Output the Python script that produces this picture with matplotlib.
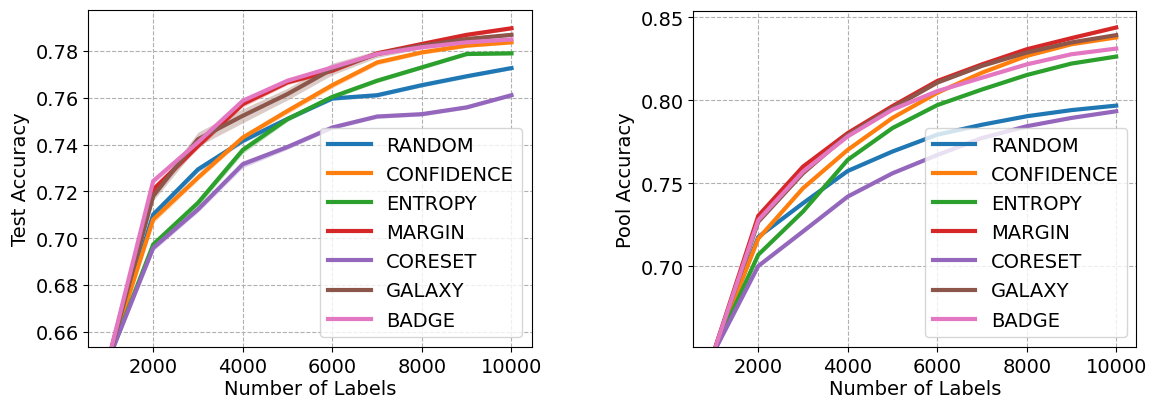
import matplotlib
matplotlib.use("Agg")
import matplotlib.pyplot as plt
import numpy as np

plt.rcParams.update({
    "font.size": 14,
    "axes.grid": True,
    "grid.linestyle": "--",
    "grid.color": "#b0b0b0",
    "grid.linewidth": 0.8,
})

labels = [1000, 2000, 3000, 4000, 5000, 6000, 7000, 8000, 9000, 10000]
methods = ["RANDOM", "CONFIDENCE", "ENTROPY", "MARGIN", "CORESET", "GALAXY", "BADGE"]
colors = ["#1f77b4", "#ff7f0e", "#2ca02c", "#d62728", "#9467bd", "#8c564b", "#e377c2"]

# test accuracy (mean, std)
test_random = [0.648, 0.7101, 0.7294, 0.7416, 0.7510, 0.7597, 0.7611, 0.7654, 0.7692, 0.7727]
test_confidence = [0.648, 0.7080, 0.7259, 0.7430, 0.7544, 0.7654, 0.7751, 0.7794, 0.7823, 0.7837]
test_entropy = [0.648, 0.6973, 0.7151, 0.7377, 0.7509, 0.7604, 0.7673, 0.7730, 0.7787, 0.7790]
test_margin = [0.648, 0.7208, 0.7394, 0.7573, 0.7666, 0.7716, 0.7790, 0.7830, 0.7869, 0.7897]
test_coreset = [0.648, 0.6958, 0.7123, 0.7316, 0.7390, 0.7473, 0.7520, 0.7530, 0.7559, 0.7611]
test_galaxy = [0.648, 0.7180, 0.7423, 0.7523, 0.7616, 0.7723, 0.7787, 0.7823, 0.7851, 0.7869]
test_badge = [0.648, 0.7244, 0.7410, 0.7587, 0.7673, 0.7730, 0.7787, 0.7816, 0.7837, 0.7849]

test_random_std = [0.0, 0.0012, 0.0012, 0.0010, 0.0008, 0.0008, 0.0008, 0.0008, 0.0008, 0.0007]
test_confidence_std = [0.0, 0.0015, 0.0012, 0.0010, 0.0012, 0.0012, 0.0010, 0.0008, 0.0008, 0.0007]
test_entropy_std = [0.0, 0.0012, 0.0015, 0.0015, 0.0010, 0.0008, 0.0008, 0.0008, 0.0007, 0.0007]
test_margin_std = [0.0, 0.0015, 0.0012, 0.0012, 0.0010, 0.0008, 0.0008, 0.0008, 0.0007, 0.0007]
test_coreset_std = [0.0, 0.0012, 0.0012, 0.0015, 0.0010, 0.0008, 0.0008, 0.0008, 0.0007, 0.0007]
test_galaxy_std = [0.0, 0.0020, 0.0030, 0.0030, 0.0025, 0.0025, 0.0015, 0.0012, 0.0010, 0.0008]
test_badge_std = [0.0, 0.0012, 0.0012, 0.0012, 0.0010, 0.0008, 0.0008, 0.0008, 0.0007, 0.0007]

# pool accuracy (mean, std)
pool_random = [0.648, 0.7177, 0.7380, 0.7574, 0.7691, 0.7792, 0.7852, 0.7903, 0.7940, 0.7967]
pool_confidence = [0.648, 0.7167, 0.7470, 0.7701, 0.7893, 0.8044, 0.8165, 0.8266, 0.8336, 0.8377]
pool_entropy = [0.648, 0.7070, 0.7330, 0.7641, 0.7832, 0.7970, 0.8064, 0.8151, 0.8220, 0.8262]
pool_margin = [0.648, 0.7304, 0.7600, 0.7802, 0.7964, 0.8115, 0.8215, 0.8306, 0.8373, 0.8437]
pool_coreset = [0.648, 0.7002, 0.7210, 0.7420, 0.7560, 0.7670, 0.7772, 0.7843, 0.7893, 0.7933]
pool_galaxy = [0.648, 0.7268, 0.7560, 0.7792, 0.7953, 0.8105, 0.8206, 0.8286, 0.8347, 0.8391]
pool_badge = [0.648, 0.7278, 0.7570, 0.7782, 0.7943, 0.8054, 0.8135, 0.8215, 0.8276, 0.8310]

pool_std = [0.0, 0.0008, 0.0008, 0.0007, 0.0007, 0.0006, 0.0006, 0.0005, 0.0005, 0.0005]

test_means = [test_random, test_confidence, test_entropy, test_margin, test_coreset, test_galaxy, test_badge]
test_stds = [test_random_std, test_confidence_std, test_entropy_std, test_margin_std,
             test_coreset_std, test_galaxy_std, test_badge_std]
pool_means = [pool_random, pool_confidence, pool_entropy, pool_margin, pool_coreset, pool_galaxy, pool_badge]

fig = plt.figure(figsize=(11.52, 4.02), dpi=100)
ax1 = fig.add_axes([0.0766, 0.1343, 0.3849, 0.8383])
ax2 = fig.add_axes([0.6019, 0.1343, 0.3845, 0.8358])

x = np.array(labels)
for name, c, m, s in zip(methods, colors, test_means, test_stds):
    m = np.array(m)
    s = np.array(s)
    ax1.plot(x, m, color=c, lw=3, label=name)
    ax1.fill_between(x, m - s, m + s, color=c, alpha=0.3, lw=0)

for name, c, m in zip(methods, colors, pool_means):
    m = np.array(m)
    s = np.array(pool_std)
    ax2.plot(x, m, color=c, lw=3, label=name)
    ax2.fill_between(x, m - s, m + s, color=c, alpha=0.3, lw=0)

ax1.set_ylim(0.6535, 0.7975)
ax1.set_yticks([0.66, 0.68, 0.70, 0.72, 0.74, 0.76, 0.78])
ax1.set_ylabel("Test Accuracy")
ax2.set_ylim(0.6515, 0.8536)
ax2.set_yticks([0.70, 0.75, 0.80, 0.85])
ax2.set_ylabel("Pool Accuracy")

for ax in (ax1, ax2):
    ax.set_xlim(550, 10450)
    ax.set_xticks([2000, 4000, 6000, 8000, 10000])
    ax.set_xlabel("Number of Labels", labelpad=2)
    ax.legend(loc="lower right", fontsize=14, handlelength=2.2, labelspacing=0.52)

fig.savefig("out.png", dpi=100)
